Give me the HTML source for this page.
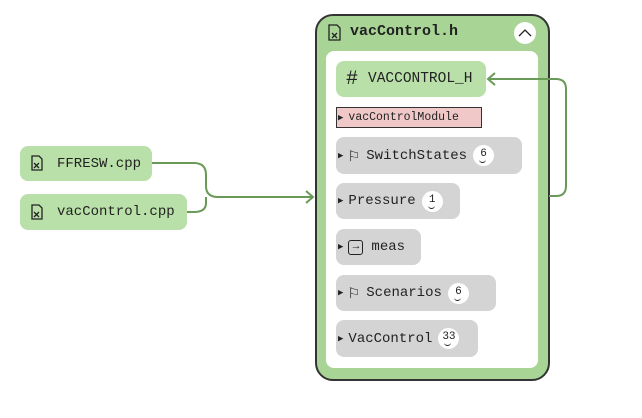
<!DOCTYPE html>
<html><head><meta charset="utf-8"><style>
body{margin:0;width:642px;height:418px;background:#fff;position:relative;overflow:hidden;font-family:"Liberation Mono","DejaVu Sans Mono",monospace;}
.n{position:absolute;box-sizing:border-box;display:flex;align-items:center;font-size:14px;color:#222;border-radius:8px;white-space:nowrap}
.g{background:#d4d4d4}
.tri{font-size:9px;margin:0 5px 0 2px}
.badge{display:inline-block;width:21px;height:21px;border-radius:50%;background:#fff;text-align:center;font-size:11px;line-height:18px;margin-left:6px;position:relative}
.badge:after{content:"";position:absolute;left:6px;bottom:3px;width:7px;height:3px;border-bottom:1px solid #222;border-radius:0 0 6px 6px}
</style></head><body>
<svg width="642" height="418" style="position:absolute;left:0;top:0">
<rect x="316" y="15" width="233" height="365" rx="17" fill="#a8d595" stroke="#333" stroke-width="2"/>
<rect x="326" y="51" width="212" height="317" rx="8" fill="#fff"/>
<circle cx="525" cy="33" r="11" fill="#fff"/>
<path d="M519 36 L525 30 L531 36" fill="none" stroke="#222" stroke-width="1.3"/>
<g fill="none" stroke="#6a9a58" stroke-width="2">
<path d="M152 163 H194 Q206 163 206 175 V186 Q206 197 218 197 H312"/>
<path d="M187 212 H194 Q206 212 206 203 V197"/>
<path d="M306 191 L313 197 L306 203"/>
<path d="M549 196 H556 Q566 196 566 186 V89 Q566 79 556 79 H488"/>
<path d="M495 73 L488 79 L495 85"/>
</g>
<g fill="none" stroke="#222" stroke-width="1.3">
<path d="M329 25 h8 l3 3 v12 h-11 z"/><path d="M332 33 l5 5 M337 33 l-5 5"/>
</g>
</svg>
<div style="position:absolute;left:350px;top:23px;font-weight:bold;font-size:15px;color:#222">vacControl.h</div>
<div class="n" style="left:20px;top:146px;width:132px;height:35px;background:#b9e0a8;padding-left:37px">FFRESW.cpp</div>
<div class="n" style="left:20px;top:194px;width:167px;height:36px;background:#b9e0a8;padding-left:37px">vacControl.cpp</div>
<svg width="642" height="418" style="position:absolute;left:0;top:0">
<g fill="none" stroke="#222" stroke-width="1.3">
<path d="M32 156 h7 l3 3 v11 h-10 z"/><path d="M34 163 l5 5 M39 163 l-5 5"/>
<path d="M32 205 h7 l3 3 v11 h-10 z"/><path d="M34 212 l5 5 M39 212 l-5 5"/>
</g>
</svg>
<div class="n" style="left:336px;top:61px;width:150px;height:36px;background:#b9e0a8;padding-left:10px;font-size:14.5px"><span style="font-size:20px;margin-right:10px">#</span>VACCONTROL_H</div>
<div class="n" style="left:336px;top:107px;width:146px;height:21px;background:#f0c8c8;border:1px solid #333;border-radius:0;font-size:11.5px"><span class="tri" style="margin-left:1px">▶</span>vacControlModule</div>
<div class="n g" style="left:336px;top:137px;width:186px;height:37px"><span class="tri">▶</span><span style="font-size:18px;margin-right:7px">⚐</span>SwitchStates<span class="badge">6</span></div>
<div class="n g" style="left:336px;top:183px;width:124px;height:36px"><span class="tri">▶</span>Pressure<span class="badge">1</span></div>
<div class="n g" style="left:336px;top:229px;width:85px;height:36px"><span class="tri">▶</span><span style="display:inline-block;width:13px;height:13px;border:1.5px solid #222;border-radius:3px;font-size:11px;line-height:13px;text-align:center;margin-right:8px">→</span>meas</div>
<div class="n g" style="left:336px;top:275px;width:160px;height:36px"><span class="tri">▶</span><span style="font-size:18px;margin-right:7px">⚐</span>Scenarios<span class="badge">6</span></div>
<div class="n g" style="left:336px;top:320px;width:142px;height:37px"><span class="tri">▶</span>VacControl<span class="badge">33</span></div>
</body></html>
